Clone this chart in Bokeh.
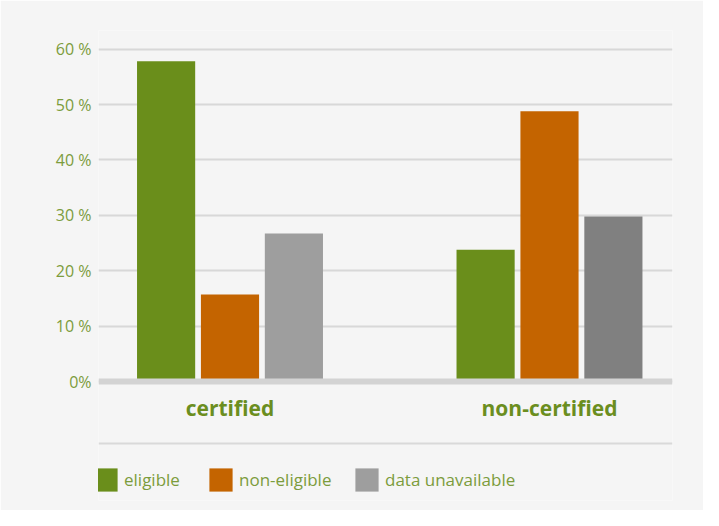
from bokeh.plotting import figure
from bokeh.models import ColumnDataSource, FixedTicker, Span, Legend, LegendItem, Range1d
from bokeh.core.properties import value
from bokeh.embed import file_html
from bokeh.resources import INLINE

# ---- data ----
groups = ["certified", "non-certified"]
series = ["eligible", "non-eligible", "data unavailable"]
eligible = [57.8, 23.8]
non_eligible = [15.7, 48.8]
data_unavailable = [26.7, 29.8]
y_ticks = [0, 10, 20, 30, 40, 50, 60]
y_tick_labels = ["0%", "10 %", "20 %", "30 %", "40 %", "50 %", "60 %"]

# ---- style ----
GREEN = "#6a8e1b"
ORANGE = "#c46400"
GRAY = "#9e9e9e"
DARK_GRAY = "#808080"
TEXT_GREEN = "#7c9c3c"
LABEL_GREEN = "#6b8e1f"
BG = "#f5f5f5"
FONT = "Open Sans"

p = figure(width=703, height=510, output_backend="svg", toolbar_location=None,
           x_range=Range1d(-0.4116, 1.385), y_range=Range1d(-21.48, 63.36),
           x_axis_location=None,
           min_border_left=98, min_border_right=31, min_border_top=30, min_border_bottom=10)
p.background_fill_color = BG
p.border_fill_color = BG
p.outline_line_color = None
p.xgrid.visible = False
p.ygrid.grid_line_color = "#d8d8d8"
p.ygrid.grid_line_width = 2

ax = p.yaxis[0]
ax.ticker = FixedTicker(ticks=y_ticks)
ax.major_label_overrides = {t: l for t, l in zip(y_ticks, y_tick_labels)}
ax.axis_line_color = None
ax.major_tick_line_color = None
ax.minor_tick_line_color = None
ax.major_label_text_font = FONT
ax.major_label_text_font_size = "16px"
ax.major_label_text_color = TEXT_GREEN
ax.major_label_standoff = 1

gx = list(range(len(groups)))
offsets = [-0.2, 0.0, 0.2]
bw = 0.182

src = ColumnDataSource(dict(
    x0=[g + offsets[0] for g in gx], v0=eligible,
    x1=[g + offsets[1] for g in gx], v1=non_eligible,
    x2=[g + offsets[2] for g in gx], v2=data_unavailable,
    c2=[GRAY, DARK_GRAY],
))
r0 = p.vbar(x="x0", top="v0", bottom=0, width=bw, source=src, fill_color=GREEN, line_color=None)
r1 = p.vbar(x="x1", top="v1", bottom=0, width=bw, source=src, fill_color=ORANGE, line_color=None)
r2 = p.vbar(x="x2", top="v2", bottom=0, width=bw, source=src, fill_color="c2", line_color=None)

# baseline bar and divider
p.add_layout(Span(location=0, dimension="width", line_color="#d3d3d3", line_width=6))
p.add_layout(Span(location=-11.19, dimension="width", line_color="#d9d9d9", line_width=2))

# category labels
p.text(x=gx, y=[-4.7] * len(groups), text=groups, text_font=value(FONT),
       text_font_style="bold", text_font_size="21px", text_color=LABEL_GREEN,
       text_align="center", text_baseline="middle")

# legend
leg_x = [-7, 108, 254]
for rend, lab, lx in zip([r0, r1, r2], series, leg_x):
    leg = Legend(items=[LegendItem(label=lab, renderers=[rend], index=0)],
                 location=(lx, 6), orientation="horizontal",
                 glyph_width=29, glyph_height=29, label_standoff=4,
                 label_text_font=FONT, label_text_font_size="17px",
                 label_text_color=TEXT_GREEN, padding=0, margin=0, spacing=0,
                 border_line_color=None, background_fill_alpha=0)
    p.add_layout(leg)

open("out.html", "w").write(file_html(p, INLINE))
